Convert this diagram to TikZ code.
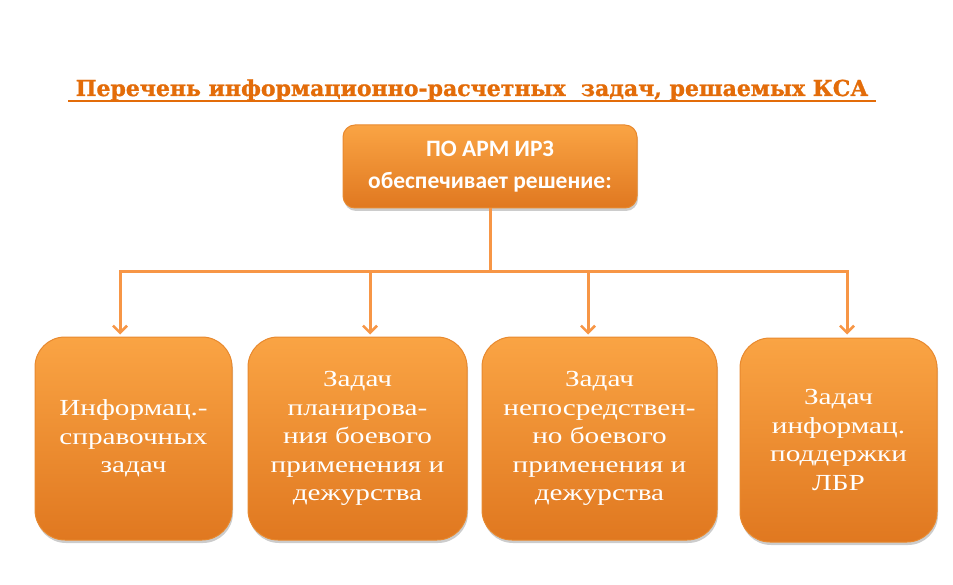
\documentclass[tikz,border=0pt]{standalone}
\usepackage{fontspec}
\usetikzlibrary{arrows.meta,shadows,calc}
\setmainfont{Liberation Serif}
\newfontfamily\titlefont{DejaVu Serif}[BoldFeatures={FakeBold=1.2}]
\newfontfamily\topfont{Carlito}
\newfontfamily\boxfont{Liberation Serif}[FakeStretch=1.27]
\definecolor{lineor}{HTML}{F79646}
\definecolor{titleor}{HTML}{E36C09}
\definecolor{boxtop}{HTML}{FAA444}
\definecolor{boxbot}{HTML}{E07820}
\definecolor{boxedge}{HTML}{E8892E}
\tikzset{
  taskbox/.style={draw=boxedge, line width=1pt, rounded corners=30pt,
    top color=boxtop, bottom color=boxbot,
    drop shadow={shadow xshift=1pt, shadow yshift=-3pt, opacity=0.4},
    text=white, font=\boxfont\fontsize{23}{28.5}\selectfont, align=center,
    minimum height=203pt, inner sep=2pt},
  headbox/.style={draw=boxedge, line width=1pt, rounded corners=12pt,
    top color=boxtop, bottom color=boxbot,
    drop shadow={shadow xshift=1pt, shadow yshift=-3pt, opacity=0.4},
    text=white, font=\topfont\bfseries\fontsize{23.5}{31}\selectfont, align=center,
    minimum width=294pt, minimum height=83pt},
  conn/.style={draw=lineor, line width=3pt},
  arr/.style={conn, -{Straight Barb[length=7pt,width=14pt,line width=2.6pt]}}
}
\begin{document}
\begin{tikzpicture}[x=1pt,y=-1pt]
\useasboundingbox (0,0) rectangle (953,585);
\node[font=\titlefont\bfseries\fontsize{22}{26}\selectfont, text=titleor, anchor=base] (title) at (472,96)
  {Перечень информационно-расчетных\ \ задач, решаемых КСА};
\draw[titleor, line width=1.3pt] (68,101) -- (876,101);
\node[headbox] (top) at (490,166.5) {\raisebox{-2pt}{ПО АРМ ИРЗ}\\[0pt]\raisebox{-3pt}{обеспечивает решение:}};
\node[taskbox, minimum width=197pt] (b1) at (133.5,438.5) {Информац.-\\справочных\\задач};
\node[taskbox, minimum width=219pt] (b2) at (357.5,438.5) {Задач\\планирова-\\ния боевого\\применения и\\дежурства};
\node[taskbox, minimum width=235pt] (b3) at (599.5,438.5) {Задач\\непосредствен-\\но боевого\\применения и\\дежурства};
\node[taskbox, minimum width=197pt, minimum height=204pt] (b4) at (838.5,440) {Задач\\информац.\\поддержки\\ЛБР};
\coordinate (j) at (490,272);
\draw[conn] (top.south) -- (j);
\draw[arr] (j) -| ([xshift=-13.5pt,yshift=2pt]b1.north);
\draw[arr] (j) -| ([xshift=12.5pt,yshift=2pt]b2.north);
\draw[arr] (j) -| ([xshift=-11.5pt,yshift=2pt]b3.north);
\draw[arr] (j) -| ([xshift=8.5pt,yshift=3pt]b4.north);
\end{tikzpicture}
\end{document}
